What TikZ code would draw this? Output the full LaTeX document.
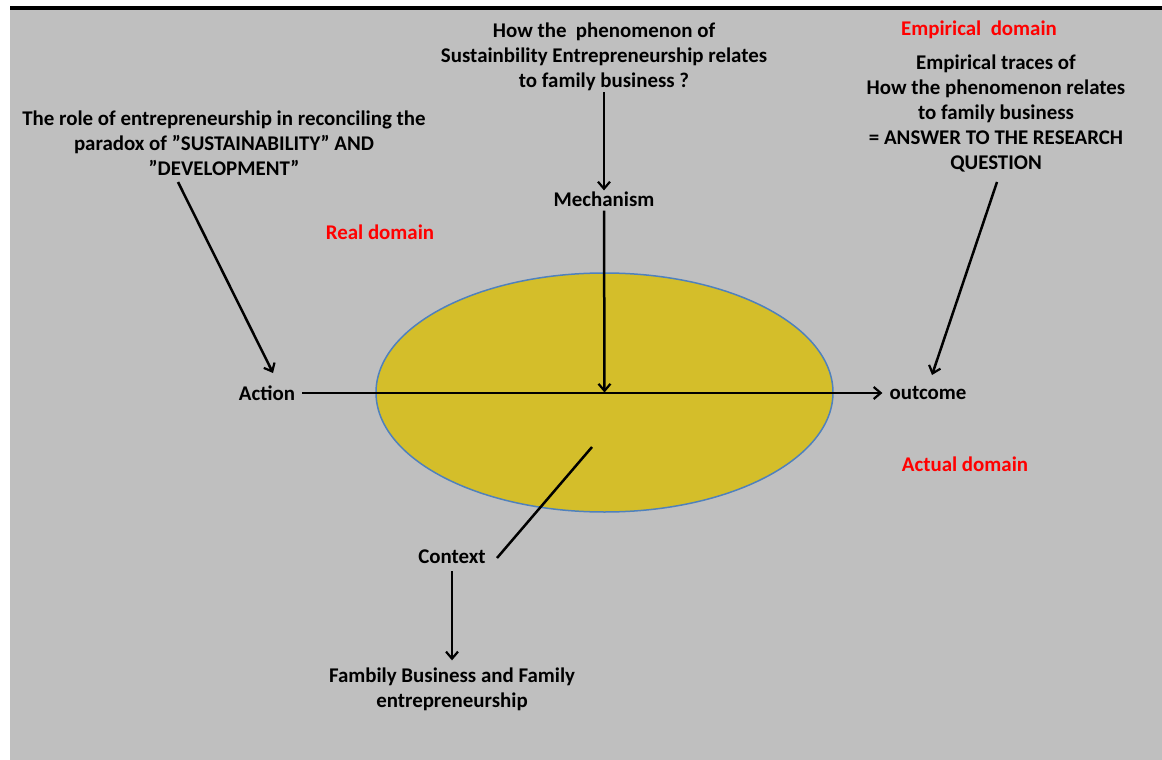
\documentclass[tikz,border=0pt]{standalone}
\usepackage{fontspec}
\setmainfont{Carlito}
\usetikzlibrary{arrows.meta,shapes.geometric,calc}
\definecolor{bggray}{RGB}{191,191,191}
\definecolor{ellfill}{RGB}{212,190,42}
\definecolor{ellline}{RGB}{79,129,189}
\definecolor{domred}{RGB}{255,0,0}
\tikzset{
  lbl/.style={font=\fontsize{20.9}{25}\selectfont\bfseries, align=center, inner sep=1pt, text=black},
  dom/.style={font=\fontsize{20.9}{25}\selectfont\bfseries, text=domred, inner sep=1pt},
  conn/.style={line width=2.5pt, draw=black, -{Straight Barb[length=7pt,width=12pt,line width=2.2pt]}},
  plainconn/.style={line width=2.5pt, draw=black},
}
\begin{document}
\begin{tikzpicture}[x=1pt,y=-1pt]
\useasboundingbox (0,0) rectangle (1162,760);
\fill[white] (0,0) rectangle (1162,760);
\fill[bggray] (10,10) rectangle (1162,760);
\draw[line width=4pt] (10,8) -- (1162,8);

% ellipse
\node[ellipse, draw=ellline, line width=1.5pt, fill=ellfill, minimum width=457pt, minimum height=239pt, inner sep=0pt] (ell) at (604.5,392.5) {};

% texts
\node[lbl] (q) at (604,57) {How the\ \ phenomenon of\\Sustainbility Entrepreneurship relates\\to family business ?};
\node[lbl] (mech) at (604,199) {Mechanism};
\node[lbl] (action) at (267,393) {Action};
\node[lbl] (outcome) at (928,393) {outcome};
\node[lbl] (role) at (224,143) {The role of entrepreneurship in reconciling the\\paradox of ”SUSTAINABILITY” AND\\”DEVELOPMENT”};
\node[lbl] (traces) at (996,113) {Empirical traces of\\How the phenomenon relates\\to family business\\= ANSWER TO THE RESEARCH\\QUESTION};
\node[lbl] (ctx) at (452,557) {Context};
\node[lbl] (fam) at (452,689) {Fambily Business and Family\\entrepreneurship};

\node[dom] (real) at (380,232) {Real domain};
\node[dom] (emp) at (979,30) {Empirical\ \ domain};
\node[dom] (actual) at (965,464) {Actual domain};

% connector endpoints
\coordinate (r1) at (178,182);
\coordinate (r2) at (273,373);
\coordinate (t1) at (997,182);
\coordinate (t2) at (932,375);
\coordinate (c1) at (592,447);
\coordinate (c2) at (497,558);

% connectors
\draw[conn] (q.south) -- (mech.north);
\draw[conn, shorten <=3pt] (mech.south) -- (ell.center);
\draw[conn, shorten <=6pt, shorten >=6pt] (action.east) -- (outcome.west);
\draw[conn] (r1) -- (r2);
\draw[conn] (t1) -- (t2);
\draw[plainconn] (c2) -- (c1);
\draw[conn, shorten <=6pt, shorten >=6pt] (ctx.south) -- (fam.north);
\end{tikzpicture}
\end{document}
